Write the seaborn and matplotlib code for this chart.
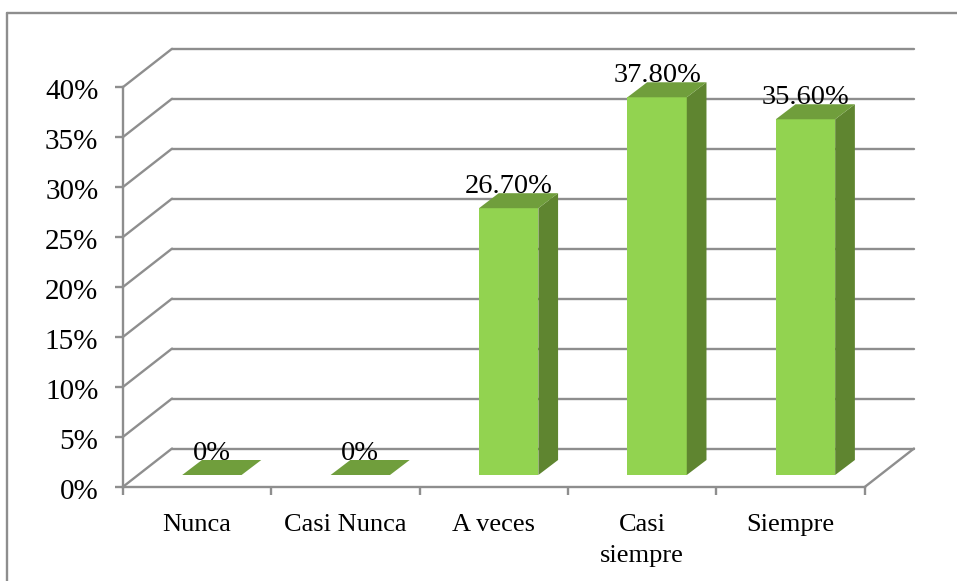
#!/usr/bin/env python3
import numpy as np
import matplotlib
matplotlib.use("Agg")
import matplotlib.pyplot as plt
from matplotlib.lines import Line2D
from matplotlib.patches import Polygon
from matplotlib.transforms import Affine2D, IdentityTransform
import seaborn as sns

# datos
categorias = ["Nunca", "Casi Nunca", "A veces", "Casi\nsiempre", "Siempre"]
valores = [0, 0, 26.7, 37.8, 35.6]
etiquetas = ["0%", "0%", "26.70%", "37.80%", "35.60%"]
ticks_y = [0, 5, 10, 15, 20, 25, 30, 35, 40]

VERDE = "#92D350"
VERDE_TOP = "#709E3C"
VERDE_LADO = "#5F8530"
GRIS = "#8E8E8E"

W, H = 957, 581
PARED = (49.3, 38.5)    # desplazamiento de la pared del fondo, px
BARRA = (15.0, 12.0)    # la barra queda a media profundidad
FONDO = (19.7, 15.0)    # profundidad de la barra

sns.set_theme(style="white")
plt.rcParams["font.family"] = ["Liberation Serif", "DejaVu Serif"]
plt.rcParams["font.size"] = 19

fig = plt.figure(figsize=(W / 100, H / 100), dpi=100)
ax = fig.add_axes([122.7 / W, (H - 487) / H, 742 / W, 399.7 / H])
ax.patch.set_alpha(0)

sns.barplot(x=categorias, y=valores, color=VERDE, saturation=1, width=0.4, ax=ax)
ax.set_xlim(-0.5, 4.5)
ax.set_ylim(0, 40)


def desplazado(dx, dy):
    return ax.transData + Affine2D().translate(dx, dy)


# paredes
px = IdentityTransform()
for v in ticks_y:
    ax.plot([-0.5, 4.5], [v, v], color=GRIS, lw=1.7, zorder=1, clip_on=False,
            transform=desplazado(*PARED))
    x0, y0 = ax.transData.transform((-0.5, v))
    ax.plot([x0, x0 + PARED[0]], [y0, y0 + PARED[1]], color=GRIS, lw=1.7,
            zorder=1, clip_on=False, transform=px)
x1, y1 = ax.transData.transform((4.5, 0))
ax.plot([x1, x1 + PARED[0]], [y1, y1 + PARED[1]], color=GRIS, lw=1.7,
        zorder=1, clip_on=False, transform=px)

# barras con cara superior y lateral
dx, dy = FONDO
for barra, etiqueta in zip(ax.patches, etiquetas):
    xa, ya = barra.get_x(), barra.get_y()
    xb, yb = xa + barra.get_width(), ya + barra.get_height()
    barra.set_transform(desplazado(*BARRA))
    barra.set_linewidth(0)
    barra.set_zorder(3)
    (xa_, ya_), (xb_, yb_) = desplazado(*BARRA).transform([(xa, ya), (xb, yb)])
    lado = [(xb_, ya_), (xb_ + dx, ya_ + dy), (xb_ + dx, yb_ + dy), (xb_, yb_)]
    tapa = [(xa_, yb_), (xb_, yb_), (xb_ + dx, yb_ + dy), (xa_ + dx, yb_ + dy)]
    ax.add_patch(Polygon(lado, closed=True, fc=VERDE_LADO, ec="none", zorder=3,
                         transform=px, clip_on=False))
    ax.add_patch(Polygon(tapa, closed=True, fc=VERDE_TOP, ec="none", zorder=3,
                         transform=px, clip_on=False))
    ax.annotate(etiqueta, xy=((xa + xb) / 2, yb), xycoords=desplazado(*BARRA),
                xytext=(0, 10.8), textcoords="offset points", ha="center",
                va="baseline", color="black", fontsize=20.5, zorder=5,
                annotation_clip=False)

# ejes
for lado_ax in ["top", "right"]:
    ax.spines[lado_ax].set_visible(False)
for lado_ax in ["left", "bottom"]:
    ax.spines[lado_ax].set_color(GRIS)
    ax.spines[lado_ax].set_linewidth(1.7)

ax.set_yticks(ticks_y)
ax.set_yticklabels([f"{v}%" for v in ticks_y])
ax.set_xticks(np.arange(-0.5, 5), labels=[""] * 6)
ax.set_xticks(np.arange(5), labels=categorias, minor=True)
ax.tick_params(axis="y", left=True, length=5.5, width=1.7, color=GRIS, pad=12,
               labelsize=21, labelcolor="black")
ax.tick_params(axis="x", which="major", bottom=True, length=6, width=1.7, color=GRIS)
ax.tick_params(axis="x", which="minor", bottom=False, length=0, pad=19.5,
               labelsize=19, labelcolor="black")
for lab in ax.get_yticklabels():
    lab.set_transform(lab.get_transform() + Affine2D().translate(0, -2))
for lab in ax.get_xticklabels(minor=True):
    lab.set_linespacing(1.55)

# marco del gráfico
for xs, ys in [([7.5, 7.5], [12.5, H + 2]), ([7.5, W + 2], [12.5, 12.5])]:
    fig.add_artist(Line2D([x / W for x in xs], [1 - y / H for y in ys],
                          color=GRIS, lw=1.7, transform=fig.transFigure))

fig.savefig("out.png", dpi=100)
